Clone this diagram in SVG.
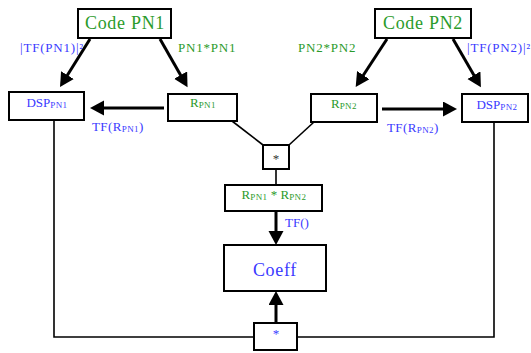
<svg xmlns="http://www.w3.org/2000/svg" width="531" height="353" viewBox="0 0 531 353">
<style>
.box{fill:#fff;stroke:#000;stroke-width:2}
.t{font-family:"Liberation Serif","Times New Roman",serif}
.big{font-size:18px;letter-spacing:0.7px;text-anchor:middle}
.sm{font-size:13px}
.mid{text-anchor:middle}
.g{fill:#2b9b2b}
.b{fill:#3a3aff}
.thick{stroke:#000;stroke-width:3;fill:none}
.thin{stroke:#000;stroke-width:1.6;fill:none}
</style>
<defs>
<marker id="ah" markerUnits="userSpaceOnUse" markerWidth="16" markerHeight="16" refX="1" refY="7.5" orient="auto" viewBox="0 0 16 16">
<path d="M0,0 L14,7.5 L0,15 z" fill="#000"/>
</marker>
</defs>
<rect width="531" height="353" fill="#fff"/>
<g id="connectors">
<line class="thick" x1="90" y1="39" x2="66.9" y2="76" marker-end="url(#ah)"/>
<line class="thick" x1="160" y1="39" x2="181.1" y2="76" marker-end="url(#ah)"/>
<line class="thick" x1="387" y1="39" x2="362.8" y2="76" marker-end="url(#ah)"/>
<line class="thick" x1="453" y1="39" x2="474.4" y2="76" marker-end="url(#ah)"/>
<line class="thick" x1="164" y1="108" x2="103" y2="108" marker-end="url(#ah)"/>
<line class="thick" x1="382" y1="109" x2="444" y2="109" marker-end="url(#ah)"/>
<line class="thin" x1="232" y1="121" x2="263" y2="145"/>
<line class="thin" x1="314" y1="122" x2="289" y2="145"/>
<line class="thin" x1="276" y1="169" x2="276" y2="185"/>
<line class="thick" x1="276" y1="211" x2="276" y2="232" marker-end="url(#ah)"/>
<line class="thick" x1="276" y1="323" x2="276" y2="304" marker-end="url(#ah)"/>
<polyline class="thin" points="54,120 54,337 254,337"/>
<polyline class="thin" points="494,122 494,337 297,337"/>
</g>
<g id="labels">
<text class="t sm b" x="20" y="52" style="letter-spacing:0.8px">|TF(PN1)|²</text>
<text class="t sm g" x="178" y="52" style="letter-spacing:0.8px">PN1*PN1</text>
<text class="t sm g" x="298" y="52" style="letter-spacing:0.8px">PN2*PN2</text>
<text class="t sm b" x="467" y="52" style="letter-spacing:0.8px">|TF(PN2)|²</text>
<text class="t sm b" x="92" y="131" style="letter-spacing:0.4px">TF(R<tspan font-size="9" dy="1">PN1</tspan><tspan dy="-1">)</tspan></text>
<text class="t sm b" x="387" y="132" style="letter-spacing:0.4px">TF(R<tspan font-size="9" dy="1">PN2</tspan><tspan dy="-1">)</tspan></text>
<text class="t sm b" x="285" y="227">TF()</text>
</g>
<g id="codePN1">
<rect class="box" x="78" y="9" width="93" height="29"/>
<text class="t big g" x="125" y="29">Code PN1</text>
</g>
<g id="codePN2">
<rect class="box" x="375" y="9" width="96" height="29"/>
<text class="t big g" x="423" y="29">Code PN2</text>
</g>
<g id="dspPN1">
<rect class="box" x="9" y="92" width="75" height="28"/>
<text class="t sm b mid" x="47" y="107">DSP<tspan font-size="9" dy="1" letter-spacing="0.4">PN1</tspan></text>
</g>
<g id="rPN1">
<rect class="box" x="168" y="94" width="69" height="27"/>
<text class="t sm g mid" x="203" y="107">R<tspan font-size="9" dy="1" letter-spacing="0.4">PN1</tspan></text>
</g>
<g id="rPN2">
<rect class="box" x="311" y="94" width="66" height="28"/>
<text class="t sm g mid" x="344" y="108">R<tspan font-size="9" dy="1" letter-spacing="0.4">PN2</tspan></text>
</g>
<g id="dspPN2">
<rect class="box" x="462" y="94" width="66" height="28"/>
<text class="t sm b mid" x="497" y="109">DSP<tspan font-size="9" dy="1" letter-spacing="0.4">PN2</tspan></text>
</g>
<g id="mult1">
<rect class="box" x="263" y="145" width="26" height="24"/>
<text class="t mid" x="276" y="163" font-size="13" fill="#333">*</text>
</g>
<g id="product">
<rect class="box" x="225" y="185" width="97" height="26"/>
<text class="t sm g mid" x="274" y="199">R<tspan font-size="9" dy="1" letter-spacing="0.4">PN1</tspan><tspan dy="-1"> * R</tspan><tspan font-size="9" dy="1" letter-spacing="0.4">PN2</tspan></text>
</g>
<g id="coeff">
<rect class="box" x="224" y="245" width="102" height="46"/>
<text class="t big b" x="275" y="276">Coeff</text>
</g>
<g id="mult2">
<rect class="box" x="254" y="323" width="43" height="27"/>
<text class="t mid b" x="276" y="338" font-size="13">*</text>
</g>
</svg>
